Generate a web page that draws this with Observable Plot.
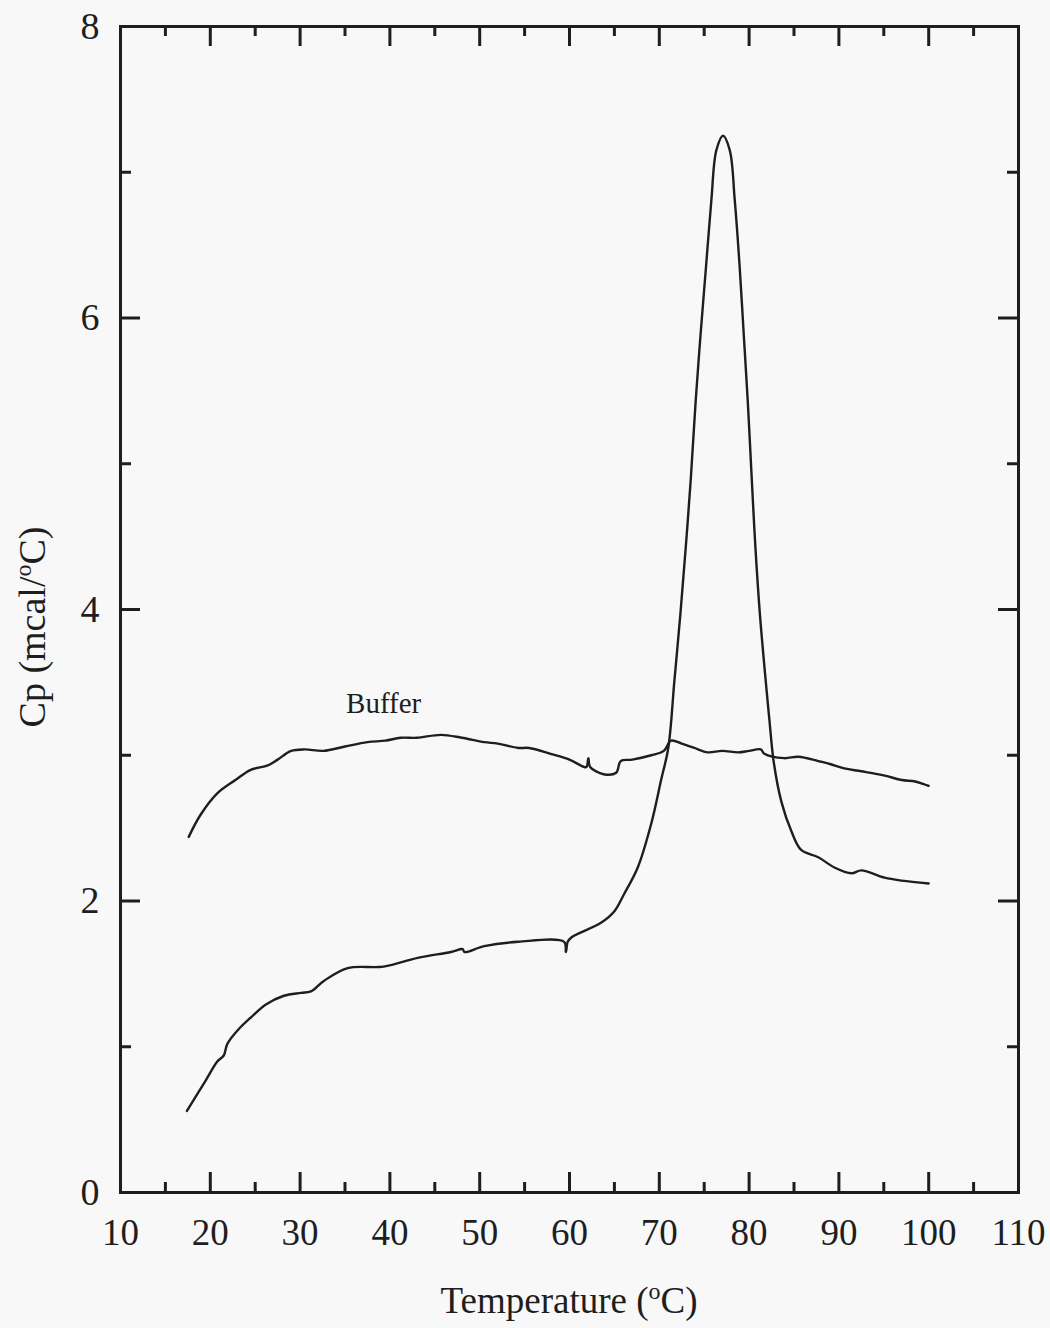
<!DOCTYPE html>
<html><head><meta charset="utf-8">
<script src="https://cdn.jsdelivr.net/npm/d3@7"></script>
<script src="https://cdn.jsdelivr.net/npm/@observablehq/plot@0.6"></script>
<style>
html,body{margin:0;padding:0;background:#f8f8f8;}
#chart svg{display:block;}
</style></head><body><div id="chart"></div>
<script>
// ---- Data ----
const bufferT  = [17.6, 18.9, 20.8, 22.8, 24.5, 26.4, 27.5, 29.0, 30.5, 32.6, 35.0, 37.5, 39.5, 41.2, 43.0, 45.7, 48.0, 50.5, 52.0, 54.3, 55.5, 57.9, 60.0, 61.6, 61.9, 62.1, 62.3, 63.8, 65.2, 65.7, 67.0, 69.1, 70.5, 71.3, 72.5, 73.9, 75.4, 77.0, 78.8, 80.0, 81.3, 81.7, 83.9, 85.5, 87.7, 89.0, 90.6, 92.5, 95.1, 97.0, 98.5, 100.0];
const bufferCp = [2.44, 2.59, 2.74, 2.83, 2.90, 2.93, 2.97, 3.03, 3.04, 3.03, 3.06, 3.09, 3.10, 3.12, 3.12, 3.14, 3.12, 3.09, 3.08, 3.05, 3.05, 3.01, 2.97, 2.92, 2.92, 2.98, 2.92, 2.87, 2.88, 2.96, 2.97, 3.00, 3.03, 3.10, 3.08, 3.05, 3.02, 3.03, 3.02, 3.03, 3.04, 3.01, 2.98, 2.99, 2.96, 2.94, 2.91, 2.89, 2.86, 2.83, 2.82, 2.79];

const sampleT  = [17.4, 19.5, 20.8, 21.5, 21.9, 23.3, 24.5, 26.2, 28.2, 30.1, 31.2, 32.6, 35.3, 39.3, 43.1, 46.8, 48.1, 48.3, 50.5, 54.3, 59.4, 59.6, 59.8, 60.2, 63.5, 65.0, 66.1, 67.6, 69.1, 70.2, 71.0, 71.68, 72.35, 72.95, 73.5, 74.05, 74.6, 75.2, 75.8, 76.35, 77.1, 77.85, 78.4, 78.95, 79.4, 79.85, 80.3, 80.7, 81.2, 81.85, 82.25, 82.75, 83.6, 84.7, 85.8, 87.7, 89.5, 91.4, 92.5, 95.1, 97.0, 100.0];
const sampleCp = [0.56, 0.77, 0.90, 0.94, 1.02, 1.13, 1.20, 1.29, 1.35, 1.37, 1.38, 1.45, 1.54, 1.55, 1.61, 1.65, 1.67, 1.65, 1.69, 1.72, 1.72, 1.65, 1.72, 1.75, 1.85, 1.93, 2.05, 2.23, 2.53, 2.83, 3.05, 3.51, 3.97, 4.43, 4.89, 5.43, 5.89, 6.35, 6.81, 7.15, 7.25, 7.15, 6.81, 6.35, 5.89, 5.43, 4.89, 4.43, 3.97, 3.51, 3.25, 2.95, 2.68, 2.48, 2.35, 2.30, 2.23, 2.19, 2.21, 2.16, 2.14, 2.12];

const xTickLabels = [10, 20, 30, 40, 50, 60, 70, 80, 90, 100, 110];
const xMajorTicks = [20, 30, 40, 50, 60, 70, 80, 90, 100];
const xMinorTicks = [15, 25, 35, 45, 55, 65, 75, 85, 95, 105];
const yTickLabels = [0, 2, 4, 6, 8];
const yMajorTicks = [2, 4, 6];
const yMinorTicks = [1, 3, 5, 7];
const annotations = [{label: "Buffer", T: 39.3, Cp: 3.29}];

// ---- Layout ----
const W = 1050, H = 1328;
const mL = 120, mR = 32, mT = 26, mB = 136;
const plotW = W - mL - mR, plotH = H - mT - mB;
const ink = "#1e1e1e";
const font = "'Liberation Serif', 'Times New Roman', serif";

const buffer = bufferT.map((t, i) => ({T: t, Cp: bufferCp[i]}));
const sample = sampleT.map((t, i) => ({T: t, Cp: sampleCp[i]}));

const majLen = 20, minLen = 10, yMinLen = 11, tickW = 3;

const chart = Plot.plot({
  width: W, height: H,
  marginLeft: mL, marginRight: mR, marginTop: mT, marginBottom: mB,
  style: {background: "#f8f8f8", fontFamily: font, color: ink},
  x: {domain: [10, 110]},
  y: {domain: [0, 8]},
  marks: [
    // tick labels
    Plot.axisX(xTickLabels, {anchor: "bottom", tickSize: 0, tickPadding: 26, fontSize: 37, label: null, fill: ink, tickFormat: d => String(d)}),
    Plot.axisY(yTickLabels, {anchor: "left", tickSize: 0, tickPadding: 21, fontSize: 38, label: null, fill: ink, tickFormat: d => String(d)}),
    // inward ticks - bottom / top
    Plot.tickX(xMajorTicks, {x: d => d, insetTop: plotH - majLen, stroke: ink, strokeWidth: tickW}),
    Plot.tickX(xMinorTicks, {x: d => d, insetTop: plotH - minLen, stroke: ink, strokeWidth: tickW}),
    Plot.tickX(xMajorTicks, {x: d => d, insetBottom: plotH - majLen, stroke: ink, strokeWidth: tickW}),
    Plot.tickX(xMinorTicks, {x: d => d, insetBottom: plotH - minLen, stroke: ink, strokeWidth: tickW}),
    // inward ticks - left / right
    Plot.tickY(yMajorTicks, {y: d => d, insetRight: plotW - majLen, stroke: ink, strokeWidth: tickW}),
    Plot.tickY(yMinorTicks, {y: d => d, insetRight: plotW - yMinLen, stroke: ink, strokeWidth: tickW}),
    Plot.tickY(yMajorTicks, {y: d => d, insetLeft: plotW - majLen, stroke: ink, strokeWidth: tickW}),
    Plot.tickY(yMinorTicks, {y: d => d, insetLeft: plotW - yMinLen, stroke: ink, strokeWidth: tickW}),
    Plot.frame({stroke: ink, strokeWidth: 3}),
    // curves
    Plot.line(buffer, {x: "T", y: "Cp", stroke: ink, strokeWidth: 2.4, curve: "catmull-rom"}),
    Plot.line(sample, {x: "T", y: "Cp", stroke: ink, strokeWidth: 2.4, curve: "catmull-rom"}),
    Plot.text(annotations, {x: "T", y: "Cp", text: "label", fontSize: 29, textAnchor: "middle", lineAnchor: "bottom", fill: ink})
  ]
});

document.getElementById("chart").appendChild(chart);

// axis titles with superscript degree 'o'
const svg = d3.select(chart);
const xt = svg.append("text")
  .attr("x", mL + plotW / 2).attr("y", 1313)
  .attr("text-anchor", "middle")
  .attr("font-family", font).attr("font-size", 37).attr("fill", ink);
xt.append("tspan").text("Temperature (");
xt.append("tspan").attr("font-size", 24).attr("dy", -14).text("o");
xt.append("tspan").attr("dy", 14).text("C)");

const yt = svg.append("text")
  .attr("transform", `translate(45, 627) rotate(-90)`)
  .attr("text-anchor", "middle")
  .attr("font-family", font).attr("font-size", 38).attr("fill", ink);
yt.append("tspan").text("Cp (mcal/");
yt.append("tspan").attr("font-size", 24).attr("dy", -14).text("o");
yt.append("tspan").attr("dy", 14).text("C)");
</script>
</body></html>
